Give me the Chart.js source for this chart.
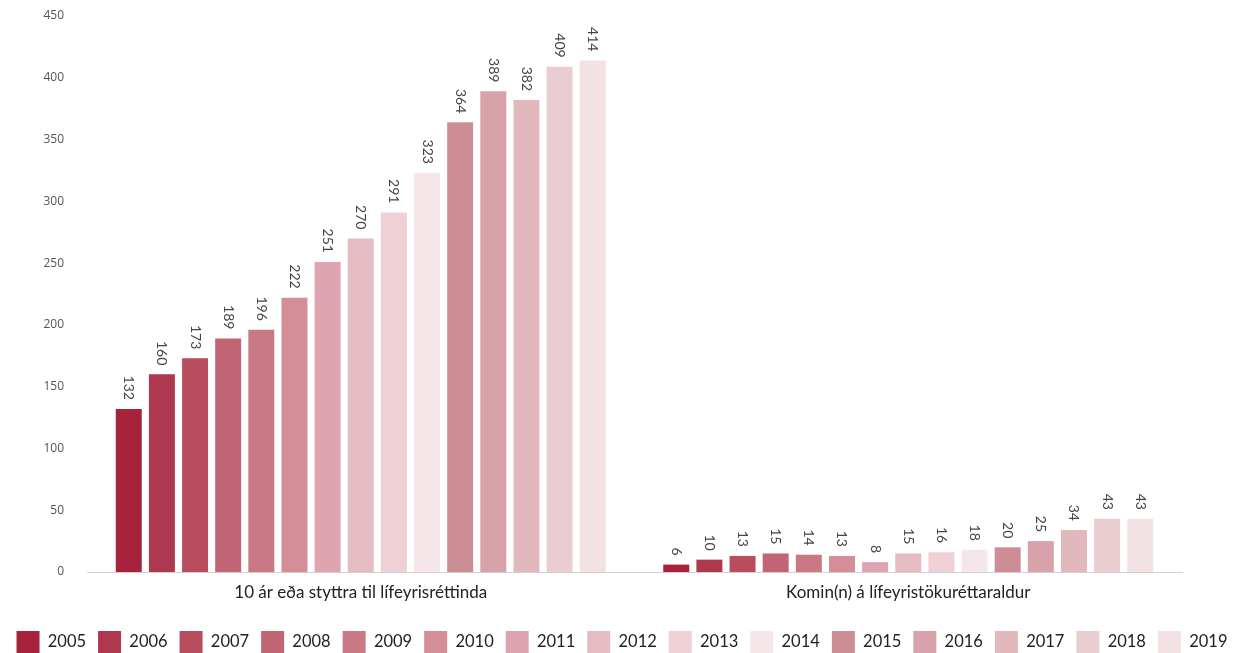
<!DOCTYPE html>
<html>
<head>
<meta charset="utf-8">
<script src="https://cdn.jsdelivr.net/npm/chart.js@4/dist/chart.umd.min.js"></script>
<style>
  html, body { margin: 0; padding: 0; background: #fff; }
  #wrap { width: 1244px; height: 653px; position: relative; }
</style>
</head>
<body>
<div id="wrap"><canvas id="c"></canvas></div>
<script>
// categories + per-year values
const categories = ['10 ár eða styttra til lífeyrisréttinda', 'Komin(n) á lífeyristökuréttaraldur'];
const years = ['2005','2006','2007','2008','2009','2010','2011','2012','2013','2014','2015','2016','2017','2018','2019'];
const shortHist = [132,160,173,189,196,222,251,270,291,323,364,389,382,409,414];
const pensionAge = [6,10,13,15,14,13,8,15,16,18,20,25,34,43,43];
const yTicks = [0,50,100,150,200,250,300,350,400,450];

const colors = ['#a7233c','#ae384e','#b84d5e','#c16574','#c97984','#d48e98','#dea5b0','#e6bcc3',
                '#efd0d5','#f5e6e9','#cc8d95','#d7a2aa','#e1b9bd','#eacdd0','#f3e2e4'];

const FONT = 'Lato, "Noto Sans", sans-serif';

const datasets = years.map((y, i) => ({
  label: y,
  data: [shortHist[i], pensionAge[i]],
  backgroundColor: colors[i],
  borderWidth: 0,
  barPercentage: 0.784,
  categoryPercentage: 0.908,
}));

// rotated value labels above each bar
const valueLabels = {
  id: 'valueLabels',
  afterDatasetsDraw(chart) {
    const ctx = chart.ctx;
    ctx.save();
    ctx.font = '14px ' + FONT;
    ctx.fillStyle = '#444';
    ctx.textAlign = 'right';
    ctx.textBaseline = 'middle';
    chart.data.datasets.forEach((ds, i) => {
      const meta = chart.getDatasetMeta(i);
      if (meta.hidden) return;
      meta.data.forEach((bar, j) => {
        ctx.save();
        ctx.translate(bar.x, bar.y - 9);
        ctx.rotate(Math.PI / 2);
        ctx.fillText(String(ds.data[j]), 0, 0);
        ctx.restore();
      });
    });
    ctx.restore();
  }
};

new Chart(document.getElementById('c'), {
  type: 'bar',
  data: { labels: categories, datasets },
  options: {
    responsive: true,
    maintainAspectRatio: false,
    animation: false,
    layout: { padding: { top: 0, left: 0, right: 0, bottom: -10 } },
    plugins: {
      legend: {
        position: 'bottom',
        labels: {
          boxWidth: 23, boxHeight: 22, padding: 12,
          color: '#222', font: { family: FONT, size: 16.5 }
        }
      },
      tooltip: { enabled: false }
    },
    scales: {
      x: {
        grid: { display: false },
        border: { display: true, color: '#d0d0d0', width: 1 },
        ticks: { color: '#222', font: { family: FONT, size: 17 }, padding: 2 },
        afterFit: s => { s.height = 47; }
      },
      y: {
        min: 0, max: 450,
        afterBuildTicks: s => { s.ticks = yTicks.map(v => ({ value: v })); },
        grid: { display: false },
        border: { display: false },
        ticks: { color: '#555', font: { family: '"Open Sans", sans-serif', size: 12 }, padding: 15 },
        afterFit: s => { s.width = 87; s.paddingTop = 16; s.paddingBottom = 0; }
      },
      // empty right axis, only reserves space on the right
      y2: {
        type: 'linear', position: 'right',
        grid: { display: false },
        border: { display: false },
        ticks: { display: false },
        afterFit: s => { s.width = 62; s.paddingTop = 0; s.paddingBottom = 0; }
      }
    }
  },
  plugins: [valueLabels]
});
</script>
</body>
</html>
